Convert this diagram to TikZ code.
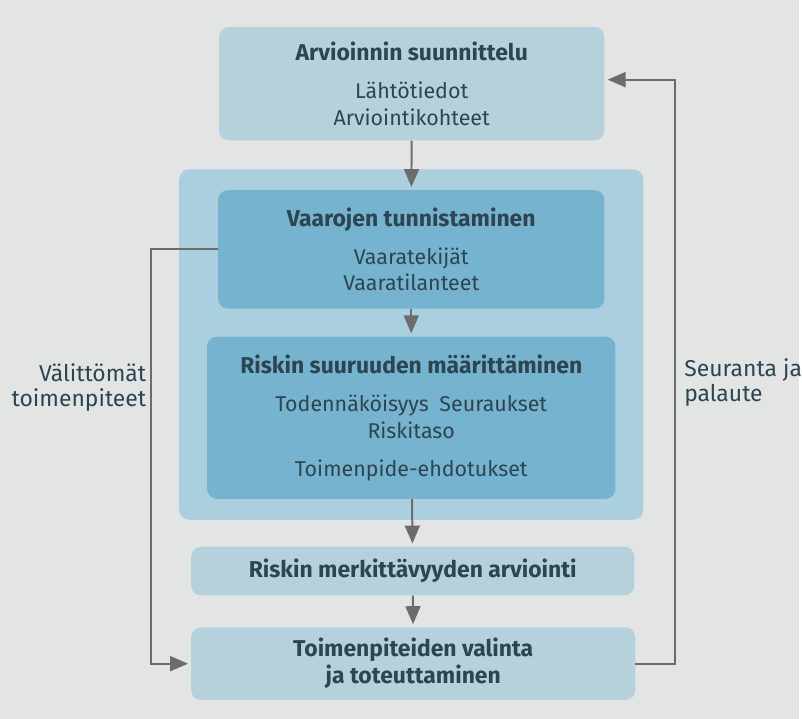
\documentclass[tikz,border=0pt]{standalone}
\usepackage{fontspec}
\setmainfont{Fira Sans}
\usepackage{tikz}
\usetikzlibrary{arrows.meta,positioning}
\definecolor{pagegray}{RGB}{227,229,229}
\definecolor{paleblue}{RGB}{181,210,220}
\definecolor{groupblue}{RGB}{170,208,223}
\definecolor{deepblue}{RGB}{118,179,206}
\definecolor{inktext}{RGB}{45,69,80}
\definecolor{linegray}{RGB}{108,108,108}

\begin{document}
\begin{tikzpicture}[x=1pt, y=-1pt,
  >={Triangle[length=18pt,width=15pt]},
  box/.style={rounded corners=10pt, align=center, inner sep=0pt, text=inktext,
    font=\fontsize{21.5}{27}\selectfont},
  strong/.style={font=\fontsize{23}{27}\selectfont\bfseries},
  flow/.style={->, draw=linegray, line width=2pt, shorten >=3pt},
  tag/.style={text=inktext, inner sep=0pt, font=\fontsize{23}{25}\selectfont}]

% Page background, also fixes the size
\fill[pagegray] (0,0) rectangle (802,722);

% Planning box at the top
\node[box, fill=paleblue, minimum width=387pt, minimum height=114pt] (plan) at (413.5,84)
  {{\fontsize{23}{27}\selectfont\bfseries Arvioinnin suunnittelu}\\[11pt] Lähtötiedot\\ Arviointikohteet};

% Group behind the two analysis steps
\node[box, fill=groupblue, minimum width=466pt, minimum height=352pt] (group) at (413,346) {};

% Analysis steps
\node[box, fill=deepblue, minimum width=388pt, minimum height=119pt] (hazard) at (413,250.5)
  {{\fontsize{23}{27}\selectfont\bfseries Vaarojen tunnistaminen}\\[11pt] Vaaratekijät\\ Vaaratilanteet};
\node[box, fill=deepblue, minimum width=410pt, minimum height=163pt] (size) at (413,419.5)
  {{\fontsize{23}{27}\selectfont\bfseries Riskin suuruuden määrittäminen}\\[11pt] Todennäköisyys\enspace Seuraukset\\ Riskitaso\\[11pt] Toimenpide-ehdotukset};

% Evaluation and actions
\node[box, strong, fill=paleblue, minimum width=445pt, minimum height=49pt] (signif) at (414.5,573.5)
  {Riskin merkittävyyden arviointi};
\node[box, strong, fill=paleblue, minimum width=446pt, minimum height=73pt] (action) at (415,666.5)
  {Toimenpiteiden valinta\\ ja toteuttaminen};

% Main flow downwards
\draw[flow] (plan) -- (hazard);
\draw[flow] (hazard) -- (size);
\draw[flow] (size) -- (signif);
\draw[flow] (signif) -- (action);

% Side loops
\coordinate (leftrail) at (152,0);
\coordinate (rightrail) at (678,0);
\draw[flow] (hazard.west) -- (hazard.west -| leftrail) |- (action.west);
\draw[flow] (action.east) -- (action.east -| rightrail) |- ([yshift=4pt]plan.east);

% Loop labels
\node[tag, anchor=east, align=right] (urgent) at (147,389) {Välittömät\\toimenpiteet};
\node[tag, anchor=west, align=left] (followup) at (687,384) {Seuranta ja\\palaute};
\end{tikzpicture}
\end{document}
